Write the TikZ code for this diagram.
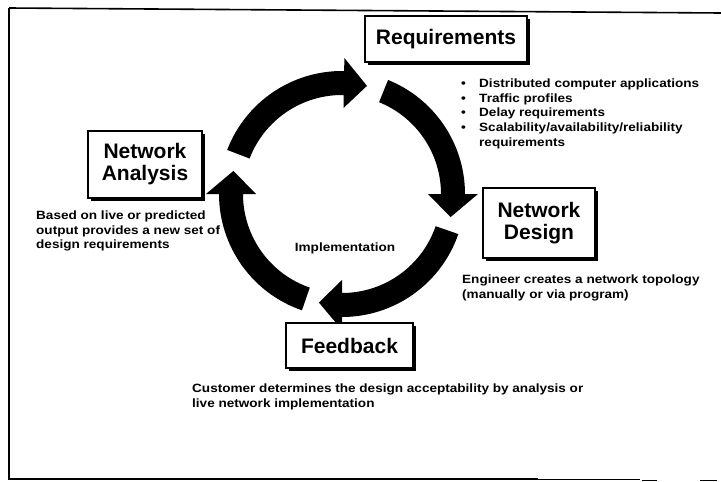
\documentclass[tikz,border=0pt]{standalone}
\usepackage{fontspec}
\setmainfont{Liberation Sans}
\newfontfamily\bodyfont[FakeStretch=1.13]{Liberation Sans}
\usetikzlibrary{shadows}
\newcommand\cycarrow[2]{%
  \fill (#1:123) arc[start angle=#1, end angle={#2+12}, radius=123]
    -- ({#2+12}:136) -- (#2:111) -- ({#2+12}:86) -- ({#2+12}:99)
    arc[start angle={#2+12}, end angle=#1, radius=99] -- cycle;}
\begin{document}
\begin{tikzpicture}[x=1pt,y=-1pt,
  titlebox/.style={draw, line width=1.2pt, fill=white, inner sep=0pt, align=center,
    font=\fontsize{21}{22}\selectfont\bfseries,
    drop shadow={shadow xshift=3pt, shadow yshift=-3pt, fill=black, opacity=1}},
  caption/.style={anchor=north west, inner sep=0pt, align=left,
    font=\bodyfont\fontsize{12}{14.7}\selectfont\bfseries}]
\useasboundingbox (0,0) rectangle (721,482);
\fill[white] (0,0) rectangle (721,482);
% page frame
\draw[line width=1.6pt] (9,8) -- (721,13);
\draw[line width=1.4pt] (9,8) -- (9,479) -- (538,479);
\draw[line width=0.8pt] (538,479) -- (640,479);
\draw[line width=1pt] (642,480) -- (657,480) (700,480) -- (717,480);
% cycle arrows
\begin{scope}[shift={(342,194)}, yscale=-1]
  \cycarrow{159}{77}
  \cycarrow{68}{-12}
  \cycarrow{-19}{-102}
  \cycarrow{251}{168}
\end{scope}
% boxes
\node[titlebox, minimum width=162pt, minimum height=46pt] (req) at (446,39) {Requirements};
\node[titlebox, minimum width=114pt, minimum height=67pt] (na) at (145,164.5) {Network\\Analysis};
\node[titlebox, minimum width=112pt, minimum height=70pt] (nd) at (539,223) {Network\\Design};
\node[titlebox, minimum width=127pt, minimum height=45pt] (fb) at (349.5,345.5) {Feedback};
% captions
\node[caption] (reqtxt) at (461,78.5) {\makebox[18pt][l]{\textbullet}Distributed computer applications\\
\makebox[18pt][l]{\textbullet}Traffic profiles\\
\makebox[18pt][l]{\textbullet}Delay requirements\\
\makebox[18pt][l]{\textbullet}Scalability/availability/reliability\\
\hspace*{18pt}requirements};
\node[caption] (natxt) at (36,210.5) {Based on live or predicted\\output provides a new set of\\design requirements};
\node[caption] (ndtxt) at (462,274.5) {Engineer creates a network topology\\(manually or via program)};
\node[caption] (fbtxt) at (192,383.5) {Customer determines the design acceptability by analysis or\\live network implementation};
\node[font=\bodyfont\fontsize{12}{14.7}\selectfont\bfseries, inner sep=0pt] (impl) at (345,248) {Implementation};
\end{tikzpicture}
\end{document}
